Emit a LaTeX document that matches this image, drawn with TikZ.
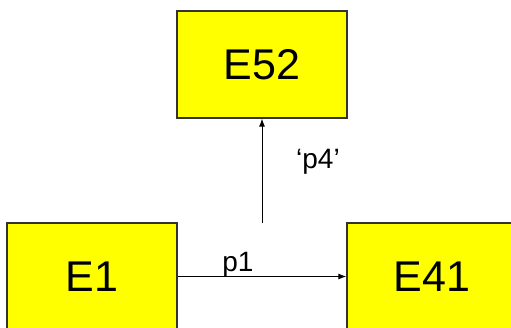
\documentclass[tikz,border=0pt]{standalone}
\usepackage{fontspec}
\setmainfont{Liberation Sans}
\usetikzlibrary{arrows.meta}
\definecolor{boxfill}{HTML}{FFFF00}
\definecolor{boxline}{HTML}{333333}
\begin{document}
\begin{tikzpicture}[x=1pt,y=-1pt,
  entity/.style={draw=boxline, line width=1.2pt, fill=boxfill,
    minimum width=170pt, minimum height=107pt, inner sep=0pt,
    font=\fontsize{43}{43}\selectfont},
  flow/.style={line width=1pt, -{Latex[length=8pt,width=6pt]}},
  tag/.style={font=\fontsize{28}{28}\selectfont, inner sep=0pt}]
  \useasboundingbox (0,0) rectangle (511,327);
  \clip (0,0) rectangle (511,327);
  % entity boxes
  \node[entity] (E52) at (262,64.5) {E52};
  \node[entity] (E1)  at (92,276.5) {E1};
  \node[entity] (E41) at (432,276.5) {E41};
  % connectors
  \coordinate (p4start) at (262,223);
  \draw[flow] (E1) -- (E41);
  \draw[flow] (p4start) -- (E52.south);
  % labels
  \node[tag] (p1) at (238,265) {p1};
  \node[tag] (p4) at (318,162) {‘p4’};
\end{tikzpicture}
\end{document}
